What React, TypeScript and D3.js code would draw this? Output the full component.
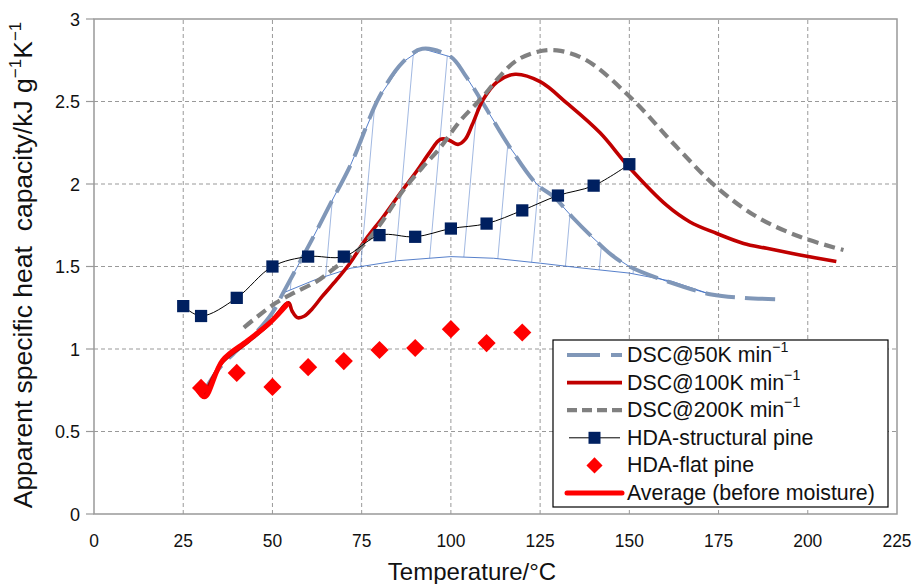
import React from "react";
import * as d3 from "d3";

// HDA measurements
const hdaTemps = [25, 30, 40, 50, 60, 70, 80, 90, 100, 110, 120, 130, 140, 150];
const structuralPine = [1.26, 1.2, 1.31, 1.5, 1.56, 1.56, 1.69, 1.68, 1.73, 1.76, 1.84, 1.93, 1.99, 2.12];
const flatTemps = [30, 40, 50, 60, 70, 80, 90, 100, 110, 120];
const flatPine = [0.764, 0.855, 0.77, 0.89, 0.927, 0.994, 1.006, 1.12, 1.036, 1.1];

// DSC curves
const dsc50T = [31, 35, 40, 45, 50, 53, 57, 61, 66, 72, 80, 86.6, 92, 100, 104, 108.7, 116.6, 124, 129, 134, 139.5, 145, 150, 160.5, 173, 182, 193];
const dsc50 = [0.75, 0.88, 0.99, 1.09, 1.22, 1.34, 1.5, 1.66, 1.87, 2.12, 2.53, 2.74, 2.82, 2.77, 2.66, 2.5, 2.22, 2.0, 1.92, 1.8, 1.68, 1.57, 1.5, 1.41, 1.33, 1.31, 1.3];

const dsc100T = [31, 36, 43, 49, 54.5, 55.5, 57, 59, 61, 64, 68, 71.7, 76, 81, 86, 90.5, 94, 97, 99, 102, 104, 106, 109, 113, 118, 125, 132.5, 141.8, 150, 160.5, 167, 174.5, 182, 188.5, 197.8, 208];
const dsc100 = [0.72, 0.92, 1.04, 1.15, 1.28, 1.23, 1.19, 1.2, 1.24, 1.32, 1.42, 1.52, 1.66, 1.8, 1.95, 2.08, 2.19, 2.27, 2.27, 2.24, 2.27, 2.36, 2.51, 2.62, 2.665, 2.62, 2.49, 2.31, 2.1, 1.87, 1.77, 1.7, 1.64, 1.61, 1.57, 1.53];

const dsc200T = [42, 46, 51, 56, 62.4, 68, 75, 80, 86.6, 92, 97, 102.5, 109, 114, 118.5, 124, 129.7, 138, 151, 163, 174.5, 185.8, 197.8, 210];
const dsc200 = [1.13, 1.2, 1.28, 1.34, 1.41, 1.5, 1.62, 1.75, 1.96, 2.1, 2.22, 2.38, 2.53, 2.66, 2.75, 2.8, 2.81, 2.75, 2.51, 2.23, 1.98, 1.8, 1.68, 1.6];

// lower edge of the hatched (latent heat) region
const hatchBaseT = [53, 62, 72, 85, 100, 112, 125, 137, 150, 162, 173];
const hatchBase = [1.34, 1.42, 1.49, 1.535, 1.56, 1.55, 1.52, 1.49, 1.46, 1.41, 1.33];

const avgT = [28.6, 31, 36, 43, 49.3, 54.5];
const avg = [0.77, 0.71, 0.93, 1.05, 1.16, 1.28];

const xTicks = [0, 25, 50, 75, 100, 125, 150, 175, 200, 225];
const yTicks = [0, 0.5, 1, 1.5, 2, 2.5, 3];
const yTickLabels = ["0", "0.5", "1", "1.5", "2", "2.5", "3"];

const legendLabels = ["DSC@50K min", "DSC@100K min", "DSC@200K min", "HDA-structural pine", "HDA-flat pine", "Average (before moisture)"];

const FONT = "'Liberation Sans', Arial, Helvetica, sans-serif";
const C50 = "#8097b8";
const C100 = "#c00000";
const C200 = "#808080";
const CAVG = "#ff0000";
const CNAVY = "#002060";
const CHATCH = "#4472c4";

type P = [number, number];
const pts = (ts: number[], vs: number[]): P[] => ts.map((t, i) => [t, vs[i]]);

export default function App() {
  const x = d3.scaleLinear().domain([0, 225]).range([94, 897]);
  const y = d3.scaleLinear().domain([0, 3]).range([514, 19]);

  const smooth = d3
    .line<P>()
    .x((d) => x(d[0]))
    .y((d) => y(d[1]))
    .curve(d3.curveCatmullRom.alpha(0.5));
  const straight = d3
    .line<P>()
    .x((d) => x(d[0]))
    .y((d) => y(d[1]));

  const lo = hatchBaseT[0];
  const hi = hatchBaseT[hatchBaseT.length - 1];
  const upper = pts(dsc50T, dsc50).filter((d) => d[0] >= lo && d[0] <= hi);
  const hatchPath = straight([...upper, ...pts(hatchBaseT, hatchBase).reverse()]) + "Z";

  const square = d3.symbol(d3.symbolSquare, 150)()!;
  const diamond = d3.symbol(d3.symbolSquare, 165)()!;
  const squareLg = d3.symbol(d3.symbolSquare, 144)()!;
  const diamondLg = d3.symbol(d3.symbolSquare, 130)()!;

  // legend layout
  const lgX = 553, lgY = 340, lgW = 335, lgH = 167;
  const rowBase = (i: number) => 362 + i * 27.6;
  const sx0 = 567, sx1 = 622;

  const sup = (
    <tspan dy={-10} fontSize={15}>
      −1
    </tspan>
  );

  return (
    <svg width={913} height={584} style={{ position: "absolute", left: 0, top: 0 }} fontFamily={FONT}>
      <defs>
        <pattern id="hatch" patternUnits="userSpaceOnUse" width={34} height={40} patternTransform="translate(8,0) rotate(5)">
          <line x1={0} y1={0} x2={0} y2={40} stroke={CHATCH} strokeWidth={1} />
        </pattern>
      </defs>
      <rect width={913} height={584} fill="#fff" />

      {/* grid */}
      {xTicks.slice(1, -1).map((t) => (
        <line key={"gx" + t} x1={x(t)} x2={x(t)} y1={y(0)} y2={y(3)} stroke="#999" strokeDasharray="4 3" />
      ))}
      {yTicks.slice(1, -1).map((v) => (
        <line key={"gy" + v} x1={x(0)} x2={x(225)} y1={y(v)} y2={y(v)} stroke="#999" strokeDasharray="4 3" />
      ))}
      <rect x={x(0)} y={y(3)} width={x(225) - x(0)} height={y(0) - y(3)} fill="none" stroke="#999" strokeWidth={1.5} />

      {/* y ticks */}
      {yTicks.map((v, i) => (
        <g key={"yt" + v}>
          <line x1={x(0) - 8} x2={x(0)} y1={y(v)} y2={y(v)} stroke="#999" strokeWidth={1.2} />
          <text x={80} y={y(v) + 6.5} fontSize={18} textAnchor="end" fill="#111">
            {yTickLabels[i]}
          </text>
        </g>
      ))}
      {/* x tick labels */}
      {xTicks.map((t) => (
        <text key={"xt" + t} transform={`translate(${x(t)},547) scale(0.94,1)`} fontSize={18.5} textAnchor="middle" fill="#111">
          {t}
        </text>
      ))}

      {/* axis titles */}
      <text transform="translate(472,580)" fontSize={24} textAnchor="middle" fill="#111">
        Temperature/°C
      </text>
      <text transform="translate(32,265) rotate(-90)" fontSize={26.5} textAnchor="middle" fill="#111" style={{ whiteSpace: "pre" }}>
        {"Apparent specific heat  capacity/kJ g"}
        <tspan dy={-11} fontSize={17}>
          −1
        </tspan>
        <tspan dy={11}>K</tspan>
        <tspan dy={-11} fontSize={17}>
          −1
        </tspan>
      </text>

      {/* hatched region */}
      <path d={hatchPath} fill="url(#hatch)" stroke={CHATCH} strokeWidth={0.9} />

      {/* DSC curves */}
      <path d={smooth(pts(dsc50T, dsc50))!} fill="none" stroke={C50} strokeWidth={4} strokeDasharray="30 10" />
      <path d={smooth(pts(dsc100T, dsc100))!} fill="none" stroke={C100} strokeWidth={3.6} />
      <path d={smooth(pts(dsc200T, dsc200))!} fill="none" stroke={C200} strokeWidth={4.2} strokeDasharray="11 6" />
      <path d={smooth(pts(avgT, avg))!} fill="none" stroke={CAVG} strokeWidth={5} strokeLinejoin="round" />

      {/* HDA structural pine */}
      <path d={smooth(pts(hdaTemps, structuralPine))!} fill="none" stroke="#000" strokeWidth={1} />
      {hdaTemps.map((t, i) => (
        <path key={"sq" + t} d={square} transform={`translate(${x(t)},${y(structuralPine[i])})`} fill={CNAVY} />
      ))}
      {/* HDA flat pine */}
      {flatTemps.map((t, i) => (
        <path key={"dm" + t} d={diamond} transform={`translate(${x(t)},${y(flatPine[i])}) rotate(45)`} fill={CAVG} />
      ))}

      {/* legend */}
      <rect x={lgX} y={lgY} width={lgW} height={lgH} fill="#fff" stroke="#000" strokeWidth={1.2} />
      <line x1={sx0} x2={sx1} y1={rowBase(0) - 7} y2={rowBase(0) - 7} stroke={C50} strokeWidth={4} strokeDasharray="33 11" />
      <line x1={sx0} x2={sx1} y1={rowBase(1) - 7} y2={rowBase(1) - 7} stroke={C100} strokeWidth={3.6} />
      <line x1={sx0} x2={sx1} y1={rowBase(2) - 7} y2={rowBase(2) - 7} stroke={C200} strokeWidth={4.2} strokeDasharray="10 5" />
      <line x1={sx0 + 2} x2={sx1 - 2} y1={rowBase(3) - 7} y2={rowBase(3) - 7} stroke="#000" strokeWidth={1} />
      <path d={squareLg} transform={`translate(${(sx0 + sx1) / 2},${rowBase(3) - 7})`} fill={CNAVY} />
      <path d={diamondLg} transform={`translate(${(sx0 + sx1) / 2},${rowBase(4) - 7}) rotate(45)`} fill={CAVG} />
      <line x1={sx0} x2={sx1} y1={rowBase(5) - 7} y2={rowBase(5) - 7} stroke={CAVG} strokeWidth={5} strokeLinecap="round" />
      {legendLabels.map((l, i) => (
        <text key={l} transform={`translate(627,${rowBase(i)}) scale(0.95,1)`} fontSize={22.5} fill="#111">
          {l}
          {i < 3 ? sup : null}
        </text>
      ))}
    </svg>
  );
}
